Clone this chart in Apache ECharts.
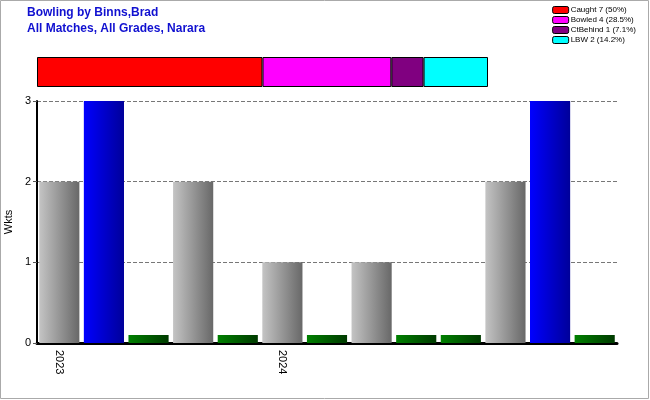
<!DOCTYPE html>
<html><head><meta charset="utf-8">
<script src="https://cdn.jsdelivr.net/npm/echarts@6/dist/echarts.min.js"></script>
<style>html,body{margin:0;padding:0;background:#fff}#c{width:650px;height:400px}</style>
</head><body><div id="c"></div>
<script>
var titleLines = ['Bowling by Binns,Brad', 'All Matches, All Grades, Narara'];
var categories = ['2023','','','','','2024','','','','','','',''];
var wickets = [2,3,0,2,0,1,0,1,0,0,2,3,0];
var dismissalNames = ['Caught','Bowled','CtBehind','LBW'];
var dismissalCounts = [7,4,1,2];
var dismissalPct = ['50%','28.5%','7.1%','14.2%'];
var dismissalColors = ['#ff0000','#ff00ff','#800080','#00ffff'];
var yTicks = [0,1,2,3];

var maxW = Math.max.apply(null, wickets);
function barStyle(v){
  var c;
  if (v === 0) c = ['#008000','#003a00'];
  else if (v === maxW) c = ['#0000ff','#00009a'];
  else c = ['#c4c4c4','#686868'];
  return {color:{type:'linear',x:0,y:0,x2:1,y2:0,colorStops:[{offset:0,color:c[0]},{offset:1,color:c[1]}]}};
}
var barData = wickets.map(function(v){ return {value: v === 0 ? 0.1 : v, itemStyle: barStyle(v)}; });
var total = dismissalCounts.reduce(function(a,b){return a+b;},0);
var stackSeries = dismissalNames.map(function(n,i){
  return {name: n+' '+dismissalCounts[i]+' ('+dismissalPct[i]+')', type:'bar', stack:'d', xAxisIndex:1, yAxisIndex:1,
    barWidth:'100%', data:[dismissalCounts[i]], itemStyle:{color:dismissalColors[i], borderColor:'#000', borderWidth:1}, silent:true};
});

var chart = echarts.init(document.getElementById('c'), null, {renderer:'canvas'});
chart.setOption({
  animation:false,
  backgroundColor:'#fff',
  title:{text:titleLines.join('\n'), left:22, top:0, textStyle:{color:'#1010d0', fontSize:12, fontWeight:'bold', fontFamily:'Liberation Sans, Arial', lineHeight:16}},
  legend:{orient:'vertical', right:9, top:1, itemWidth:16, itemHeight:7, itemGap:2,
    textStyle:{fontSize:8, fontFamily:'Liberation Sans, Arial', color:'#000', padding:[0,0,0,-3]},
    itemStyle:{borderColor:'#000', borderWidth:1},
    data: stackSeries.map(function(s){return s.name;})},
  graphic:[{type:'rect', shape:{x:0.5,y:0.5,width:648,height:398}, style:{fill:'none', stroke:'#aaa', lineWidth:1}, silent:true}],
  grid:[
    {left:37, top:101, width:580, height:242, outerBoundsMode:'none', containLabel:false},
    {left:37, top:57, width:451, height:30, outerBoundsMode:'none', containLabel:false}
  ],
  xAxis:[
    {type:'category', gridIndex:0, data:categories, boundaryGap:true,
      axisLine:{lineStyle:{color:'#000', width:3}},
      axisTick:{alignWithLabel:true, interval:0, length:5, lineStyle:{color:'#555'}},
      axisLabel:{interval:0, rotate:-90, fontSize:11, color:'#000', fontFamily:'Liberation Sans, Arial', margin:7}},
    {type:'value', gridIndex:1, min:0, max:total, show:false}
  ],
  yAxis:[
    {type:'value', gridIndex:0, min:yTicks[0], max:yTicks[yTicks.length-1], interval:1,
      name:'Wkts', nameLocation:'middle', nameGap:14, nameTextStyle:{fontSize:11, color:'#000', fontFamily:'Liberation Sans, Arial'},
      axisLine:{show:true, lineStyle:{color:'#000', width:2}},
      axisTick:{show:true, length:4, lineStyle:{color:'#555'}},
      axisLabel:{fontSize:11, color:'#000', fontFamily:'Liberation Sans, Arial', margin:6},
      splitLine:{show:true, lineStyle:{color:'#777', type:'dashed', width:1}}},
    {type:'category', gridIndex:1, data:['x'], show:false}
  ],
  series:[{type:'bar', xAxisIndex:0, yAxisIndex:0, barCategoryGap:'10%', data:barData, silent:true}].concat(stackSeries)
});
</script></body></html>
